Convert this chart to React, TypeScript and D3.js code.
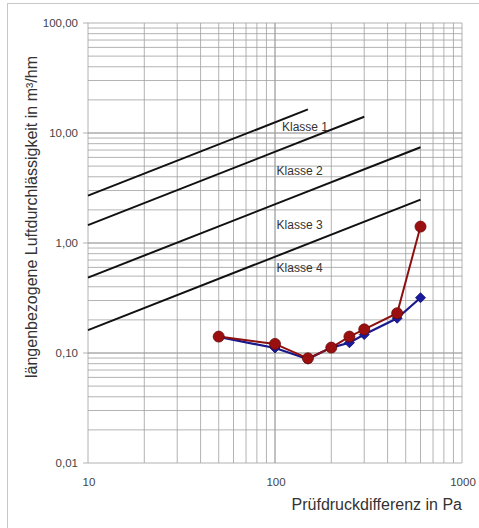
import React from "react";
import * as d3 from "d3";

const classNames = ["Klasse 1", "Klasse 2", "Klasse 3", "Klasse 4"];
const classRef100 = [12.5, 6.75, 2.25, 0.75];
const classEndPa = [150, 300, 600, 600];
const classStartPa = [10, 10, 10, 10];
const classLabelPos = [
  { x: 109, y: 11.3 },
  { x: 102, y: 4.5 },
  { x: 102, y: 1.46 },
  { x: 102, y: 0.6 },
];

const pressure = [50, 100, 150, 200, 250, 300, 450, 600];
const seriesRed = [0.141, 0.121, 0.0895, 0.112, 0.141, 0.164, 0.23, 1.41];
const seriesBlue = [0.14, 0.111, 0.088, 0.112, 0.124, 0.147, 0.207, 0.318];

const yTicks = [100, 10, 1, 0.1, 0.01];
const xTicks = [10, 100, 1000];

export default function App() {
  const W = 479;
  const H = 528;
  const x = d3.scaleLog().domain([10, 1000]).range([88, 462]);
  const y = d3.scaleLog().domain([0.01, 100]).range([463, 23]);

  const xGrid: number[] = [];
  for (let d = 10; d < 1000; d *= 10) for (let k = 1; k <= 10; k++) xGrid.push(d * k);
  const yGrid: number[] = [];
  for (let d = 0.01; d < 100; d *= 10) for (let k = 1; k <= 10; k++) yGrid.push(d * k);

  const fmt = (v: number) => v.toFixed(2).replace(".", ",");
  const line = d3
    .line<[number, number]>()
    .x((d) => x(d[0]))
    .y((d) => y(d[1]));

  const classLine = (i: number) => {
    const f = (p: number) => classRef100[i] * Math.pow(p / 100, 2 / 3);
    return line([
      [classStartPa[i], f(classStartPa[i])],
      [classEndPa[i], f(classEndPa[i])],
    ]) as string;
  };

  const redPts = pressure.map((p, i) => [p, seriesRed[i]] as [number, number]);
  const bluePts = pressure.map((p, i) => [p, seriesBlue[i]] as [number, number]);
  const font = "Liberation Sans, Arial, sans-serif";
  const diamond = d3.symbol().type(d3.symbolSquare).size(50)() as string;

  return (
    <svg width={W} height={H} style={{ position: "absolute", left: 0, top: 0 }}>
      <rect x={0} y={0} width={W} height={H} fill="#fff" />
      <rect x={7.5} y={3.5} width={W + 10} height={H + 10} fill="none" stroke="#c8c8c8" />
      <g stroke="#a0a0a0" strokeWidth={0.8}>
        {xGrid.map((v, i) => (
          <line key={"xg" + i} x1={x(v)} x2={x(v)} y1={y(100)} y2={y(0.01)} />
        ))}
        {yGrid.map((v, i) => (
          <line key={"yg" + i} x1={x(10)} x2={x(1000)} y1={y(v)} y2={y(v)} />
        ))}
        {yTicks.map((v, i) => (
          <line key={"yt" + i} x1={x(10) - 5} x2={x(10)} y1={y(v)} y2={y(v)} />
        ))}
      </g>
      <g fontFamily={font} fontSize={11.5} fill="#444">
        {yTicks.map((v, i) => (
          <text key={"yl" + i} x={78} y={y(v)} dy="0.35em" textAnchor="end">
            {fmt(v)}
          </text>
        ))}
        {xTicks.map((v, i) => (
          <text key={"xl" + i} x={x(v) + 1} y={486} textAnchor="middle">
            {v}
          </text>
        ))}
      </g>
      <g stroke="#111" strokeWidth={2} fill="none">
        {classNames.map((c, i) => (
          <path key={c} d={classLine(i)} />
        ))}
      </g>
      <g fontFamily={font} fontSize={12} fill="#333">
        {classNames.map((c, i) => (
          <text key={c} x={x(classLabelPos[i].x)} y={y(classLabelPos[i].y)} dy="0.35em">
            {c}
          </text>
        ))}
      </g>
      <path d={line(bluePts) as string} stroke="#1a1a8c" strokeWidth={2.2} fill="none" />
      <path d={line(redPts) as string} stroke="#8c1010" strokeWidth={2} fill="none" />
      {bluePts.map((d, i) => (
        <path
          key={"b" + i}
          d={diamond}
          transform={`translate(${x(d[0])},${y(d[1])}) rotate(45)`}
          fill="#1a1aa0"
          stroke="#10106a"
          strokeWidth={0.8}
        />
      ))}
      {redPts.map((d, i) => (
        <circle key={"r" + i} cx={x(d[0])} cy={y(d[1])} r={5.5} fill="#9a1010" stroke="#6a0808" strokeWidth={0.8} />
      ))}
      <text
        fontFamily={font}
        fontSize={16}
        fill="#333"
        transform={`translate(37,217) rotate(-90)`}
        textAnchor="middle"
      >
        längenbezogene Luftdurchlässigkeit in m³/hm
      </text>
      <text fontFamily={font} fontSize={16} fill="#333" x={462} y={510} textAnchor="end">
        Prüfdruckdifferenz in Pa
      </text>
    </svg>
  );
}
